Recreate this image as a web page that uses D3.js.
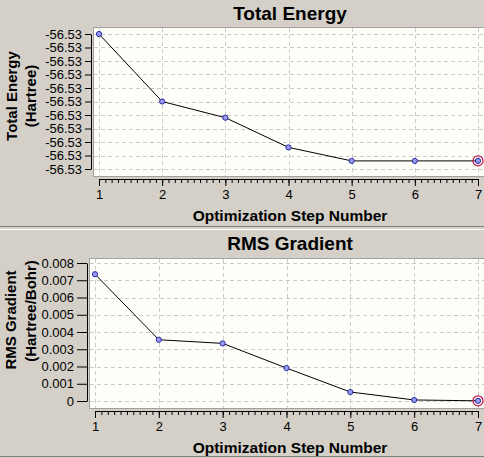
<!DOCTYPE html>
<html>
<head>
<meta charset="utf-8">
<script src="https://cdn.jsdelivr.net/npm/d3@7"></script>
<style>
  html, body { margin: 0; padding: 0; background: #d4d0c8; }
  svg { display: block; }
  text { font-family: "Liberation Sans", Arial, sans-serif; }
</style>
</head>
<body>
<div id="chart"></div>
<script>
// optimization steps
const steps = [1, 2, 3, 4, 5, 6, 7];

// total energy (Hartree) per step
const energyValues = [-56.53000, -56.53050, -56.53062, -56.53084, -56.53094, -56.53094, -56.53094];
const energyTicks = [-56.5300, -56.5301, -56.5302, -56.5303, -56.5304, -56.5305,
                     -56.5306, -56.5307, -56.5308, -56.5309, -56.5310];

// rms gradient (Hartree/Bohr) per step
const gradientValues = [0.00735, 0.00355, 0.00334, 0.00191, 0.00052, 0.00006, 0.00001];
const gradientTicks = [0, 0.001, 0.002, 0.003, 0.004, 0.005, 0.006, 0.007, 0.008];
const gradientTickLabels = ["0", "0.001", "0.002", "0.003", "0.004", "0.005", "0.006", "0.007", "0.008"];

const W = 484, H = 458;

const svg = d3.select("#chart").append("svg")
    .attr("width", W)
    .attr("height", H);

svg.append("rect")
    .attr("width", W).attr("height", H)
    .attr("fill", "#d4d0c8");

// panel separator (sunken look)
svg.append("line").attr("x1", 0).attr("x2", W).attr("y1", 226.5).attr("y2", 226.5)
    .attr("stroke", "#808080");
svg.append("line").attr("x1", 0).attr("x2", W).attr("y1", 229.5).attr("y2", 229.5)
    .attr("stroke", "#ffffff");
svg.append("line").attr("x1", 0).attr("x2", W).attr("y1", 456.5).attr("y2", 456.5)
    .attr("stroke", "#808080");

function drawPanel(p) {
    const g = svg.append("g");

    const x = d3.scaleLinear().domain([1, 7]).range([p.x1, p.x7]);
    const y = d3.scaleLinear().domain(p.yDomain).range([p.yBottom, p.yTop]);

    // title
    g.append("text")
        .attr("x", 290).attr("y", p.titleY)
        .attr("text-anchor", "middle")
        .attr("font-size", 19).attr("font-weight", "bold")
        .text(p.title);

    // plot box
    g.append("rect")
        .attr("x", p.box[0] + 0.5).attr("y", p.box[1] + 0.5)
        .attr("width", p.box[2] - p.box[0]).attr("height", p.box[3] - p.box[1])
        .attr("fill", "#fffffa")
        .attr("stroke", "#a0a0a0");

    // grid
    g.append("g").selectAll("line")
        .data(p.ticks)
        .join("line")
        .attr("x1", p.box[0] + 1).attr("x2", p.box[2])
        .attr("y1", d => Math.round(y(d)) + 0.5).attr("y2", d => Math.round(y(d)) + 0.5)
        .attr("stroke", "#cccccc").attr("stroke-dasharray", "4,3");

    g.append("g").selectAll("line")
        .data(steps)
        .join("line")
        .attr("x1", d => Math.round(x(d)) + 0.5).attr("x2", d => Math.round(x(d)) + 0.5)
        .attr("y1", p.box[1] + 1).attr("y2", p.box[3])
        .attr("stroke", "#cccccc").attr("stroke-dasharray", "4,3");

    // y axis
    const yAxis = d3.axisLeft(y)
        .tickValues(p.ticks)
        .tickFormat(p.format)
        .tickSizeInner(p.yTick)
        .tickSizeOuter(0)
        .tickPadding(3);
    const ya = g.append("g")
        .attr("transform", `translate(${p.yAxisX},0)`)
        .call(yAxis);
    ya.selectAll("text").attr("font-size", 13).attr("fill", "#000")
        .attr("font-family", "'Liberation Sans', Arial, sans-serif");
    ya.selectAll("line, path").attr("stroke", "#000");

    // x axis with minor ticks
    const minor = d3.range(1, 7.0001, 0.1);
    const xMinor = d3.axisBottom(x).tickValues(minor).tickFormat("").tickSizeInner(4).tickSizeOuter(0);
    const xm = g.append("g")
        .attr("transform", `translate(0,${p.xAxisY})`)
        .call(xMinor);
    xm.selectAll("line, path").attr("stroke", "#000");

    const xAxis = d3.axisBottom(x).tickValues(steps).tickFormat(d3.format("d"))
        .tickSizeInner(7).tickSizeOuter(0).tickPadding(4);
    const xa = g.append("g")
        .attr("transform", `translate(0,${p.xAxisY})`)
        .call(xAxis);
    xa.select(".domain").remove();
    xa.selectAll("line").attr("stroke", "#000");
    xa.selectAll("text").attr("font-size", 13).attr("fill", "#000")
        .attr("font-family", "'Liberation Sans', Arial, sans-serif");

    // x axis title
    g.append("text")
        .attr("x", 290).attr("y", p.xTitleY)
        .attr("text-anchor", "middle")
        .attr("font-size", 15.5).attr("font-weight", "bold")
        .text("Optimization Step Number");

    // y axis title (two lines, rotated)
    p.yTitle.forEach((t, i) => {
        g.append("text")
            .attr("transform", `translate(${p.yTitleX[i]},${p.yTitleMid[i]}) rotate(-90)`)
            .attr("text-anchor", "middle")
            .attr("font-size", 15).attr("font-weight", "bold")
            .text(t);
    });

    // series line
    const pts = steps.map((s, i) => [x(s), y(p.values[i])]);
    g.append("path")
        .attr("d", d3.line()(pts))
        .attr("fill", "none")
        .attr("stroke", "#000")
        .attr("stroke-width", 1);

    g.append("g").selectAll("circle")
        .data(pts)
        .join("circle")
        .attr("cx", d => d[0]).attr("cy", d => d[1])
        .attr("r", 2.6)
        .attr("fill", "#9a9af0")
        .attr("stroke", "#2a2aa8")
        .attr("stroke-width", 1);

    // current step highlight
    const last = pts[pts.length - 1];
    g.append("circle")
        .attr("cx", last[0]).attr("cy", last[1])
        .attr("r", 5)
        .attr("fill", "none")
        .attr("stroke", "#c0104a")
        .attr("stroke-width", 1.2);
}

drawPanel({
    title: "Total Energy",
    titleY: 20,
    box: [93, 27, 484, 176],
    x1: 99, x7: 478,
    yDomain: [-56.5310, -56.5300],
    yTop: 34, yBottom: 169,
    ticks: energyTicks,
    format: d => d.toFixed(2),
    yAxisX: 91, yTick: 6,
    xAxisY: 179,
    xTitleY: 221,
    yTitle: ["Total Energy", "(Hartree)"],
    yTitleX: [17, 36],
    yTitleMid: [96, 96],
    values: energyValues
});

drawPanel({
    title: "RMS Gradient",
    titleY: 250,
    box: [89, 258, 484, 408],
    x1: 95, x7: 478,
    yDomain: [0, 0.008],
    yTop: 263, yBottom: 401,
    ticks: gradientTicks,
    format: (d, i) => gradientTickLabels[i],
    yAxisX: 87, yTick: 10,
    xAxisY: 411,
    xTitleY: 453,
    yTitle: ["RMS Gradient", "(Hartree/Bohr)"],
    yTitleX: [16, 36],
    yTitleMid: [320, 311],
    values: gradientValues
});
</script>
</body>
</html>
